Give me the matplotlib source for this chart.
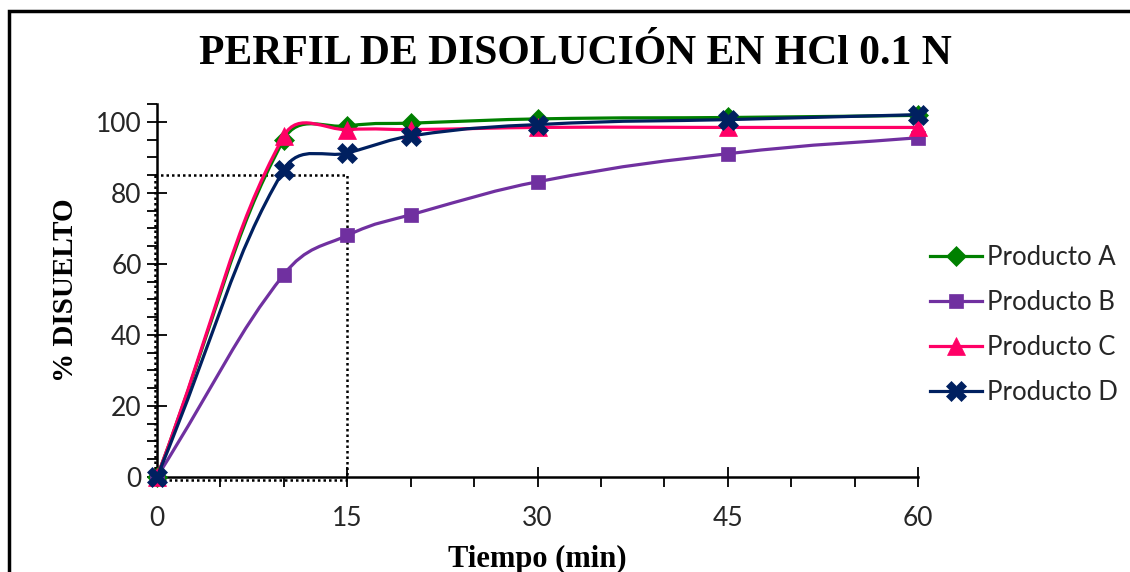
import matplotlib
matplotlib.use("Agg")
import matplotlib.pyplot as plt
import numpy as np
from matplotlib.path import Path
from matplotlib.patches import PathPatch, Rectangle
from matplotlib.lines import Line2D
from matplotlib.ticker import MultipleLocator

# tiempos de muestreo (min) y % disuelto por producto
tiempo = [0, 10, 15, 20, 30, 45, 60]
prod_a = [0, 95.0, 98.8, 99.6, 100.8, 101.2, 101.8]
prod_b = [0, 57.0, 68.0, 73.8, 83.1, 91.0, 95.5]
prod_c = [0, 96.0, 97.8, 97.8, 98.4, 98.4, 98.4]
prod_d = [0, 86.5, 91.2, 96.0, 99.2, 100.6, 102.0]
nombres = ["Producto A", "Producto B", "Producto C", "Producto D"]
limite_t, limite_q = 15, 85

colores = ["#008000", "#7030A0", "#FF0066", "#002060"]
marcadores = ["D", "s", "^", "X"]
tamanos = [10, 10, 13, 14]

sans = ["Lato", "DejaVu Sans"]
serif = ["Liberation Serif", "DejaVu Serif"]


def curva_suave(ax, x, y, k_sal=0.5, k_ent=1 / 3):
    # Bezier cubica; puntos de control escalados con la longitud de cada tramo en pantalla
    pts = ax.transData.transform(np.column_stack([x, y]))
    n = len(pts)
    d = np.hypot(*np.diff(pts, axis=0).T)
    verts = [pts[0]]
    codes = [Path.MOVETO]
    for i in range(n - 1):
        if i > 0:
            t0 = (pts[i + 1] - pts[i - 1]) * d[i] / (d[i - 1] + d[i])
        else:
            t0 = pts[1] - pts[0]
        if i + 2 < n:
            t1 = (pts[i + 2] - pts[i]) * d[i] / (d[i] + d[i + 1])
        else:
            t1 = pts[i + 1] - pts[i]
        verts += [pts[i] + t0 * k_sal, pts[i + 1] - t1 * k_ent, pts[i + 1]]
        codes += [Path.CURVE4] * 3
    verts = ax.transData.inverted().transform(np.array(verts))
    return Path(verts, codes)


fig = plt.figure(figsize=(11.3, 5.72), dpi=100)
ax = fig.add_axes([157 / 1130, 95 / 572, 761 / 1130, 373 / 572])
ax.set_xlim(0, 60)
ax.set_ylim(0, 105)

# marco exterior
fig.patches.append(Rectangle((9 / 1130, -0.05), 1.2, 1.05 - 11 / 572, transform=fig.transFigure,
                             fill=False, edgecolor="black", linewidth=2.5))

# recuadro punteado de referencia (85 % a 15 min)
punteado = dict(color="black", linestyle=(0, (1, 1.2)), linewidth=1.8, zorder=2, clip_on=False)
ax.plot([-0.15, limite_t, limite_t], [limite_q, limite_q, 0], **punteado)
ax.plot([-0.15, -0.15, limite_t], [limite_q, -0.8, -0.8], **punteado)

series = [prod_a, prod_b, prod_c, prod_d]
handles = []
for k, datos in enumerate(series):
    ax.add_patch(PathPatch(curva_suave(ax, tiempo, datos), facecolor="none", edgecolor=colores[k],
                           linewidth=2.3, zorder=3 + k, clip_on=False))
    ax.plot(tiempo, datos, linestyle="none", marker=marcadores[k], markersize=tamanos[k],
            color=colores[k], markeredgewidth=0.5, zorder=3 + k, clip_on=False)
    handles.append(Line2D([], [], color=colores[k], linewidth=2.3, marker=marcadores[k],
                          markersize=tamanos[k], markeredgewidth=0.5))

for lado in ["top", "right"]:
    ax.spines[lado].set_visible(False)
for lado in ["left", "bottom"]:
    ax.spines[lado].set_linewidth(1.8)

ax.xaxis.set_major_locator(MultipleLocator(15))
ax.xaxis.set_minor_locator(MultipleLocator(5))
ax.yaxis.set_major_locator(MultipleLocator(20))
ax.yaxis.set_minor_locator(MultipleLocator(5))
ax.tick_params(which="major", direction="inout", length=14, width=1.3, labelsize=19, pad=4)
ax.tick_params(which="minor", direction="out", length=7, width=1.3)
ax.tick_params(axis="x", which="major", pad=14)
for lab in ax.get_xticklabels() + ax.get_yticklabels():
    lab.set_family(sans)
    lab.set_color("#262626")

ax.set_xlabel("Tiempo (min)", family=serif, fontweight="bold", fontsize=22, labelpad=10)
ax.set_ylabel("% DISUELTO", family=serif, fontweight="bold", fontsize=21, labelpad=12)
fig.text(0.509, 0.905, "PERFIL DE DISOLUCIÓN EN HCl 0.1 N", family=serif, fontweight="bold",
         fontsize=30, ha="center", va="center")

leg = fig.legend(handles, nombres, loc="center left", bbox_to_anchor=(907 / 1130, 0.432),
                 frameon=False, handlelength=2.0, handletextpad=0.2, labelspacing=0.78,
                 prop={"family": sans, "size": 18.5})
for t in leg.get_texts():
    t.set_color("#262626")

fig.savefig("out.png", dpi=100)
